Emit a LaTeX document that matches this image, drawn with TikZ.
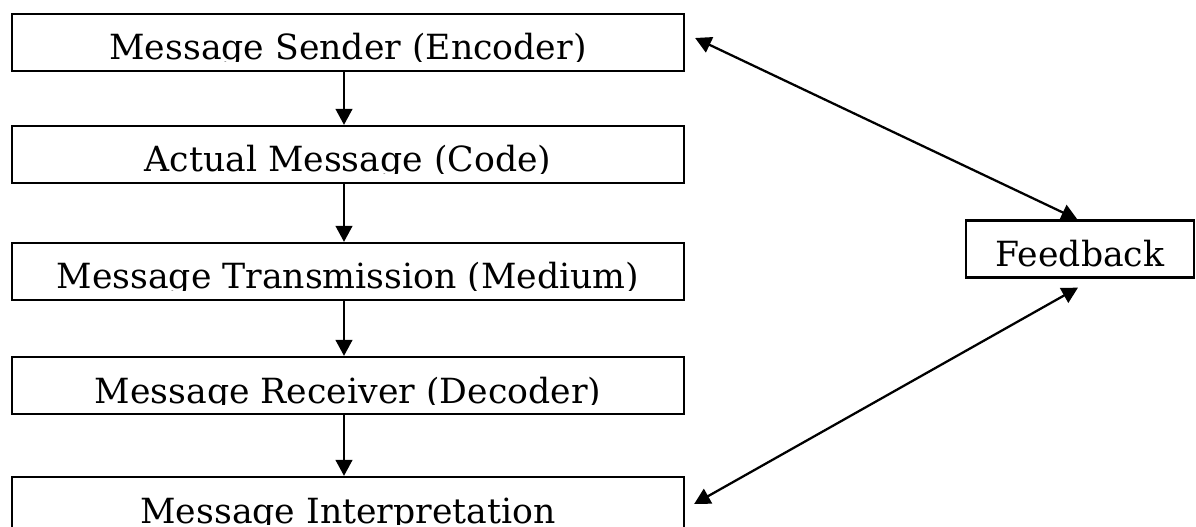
\documentclass[tikz,border=0pt]{standalone}
\usepackage{fontspec}
\setmainfont{DejaVu Serif}
\usetikzlibrary{arrows.meta}

\tikzset{
  lbl/.style={font=\fontsize{26}{30}\selectfont, inner sep=0pt, anchor=base},
  % framed box whose label is cut just under the baseline
  msgbox/.style={draw, line width=1.7pt, minimum width=504pt, minimum height=42.75pt,
    path picture={
      \clip (path picture bounding box.north west) rectangle ([yshift=7pt]path picture bounding box.south east);
      \node[lbl] at ([yshift=-34.5pt]path picture bounding box.north) {#1};
    }},
  arr/.style={line width=1.7pt, -{Triangle[length=12pt,width=12.5pt]}},
  twoway/.style={line width=1.7pt, {Triangle[length=12pt,width=12.5pt]}-{Triangle[length=12pt,width=12.5pt]}},
}

\begin{document}
\begin{tikzpicture}[x=0.75pt,y=-0.75pt]
  \useasboundingbox (0,0) rectangle (1196,527);

  \node[msgbox={Message Sender (Encoder)}] (send) at (348,42.5) {};
  \node[msgbox={Actual Message (Code)}] (code) at (348,154.5) {};
  \node[msgbox={Message Transmission (Medium)}] (medium) at (348,271.5) {};
  \node[msgbox={Message Receiver (Decoder)}] (decode) at (348,385.5) {};
  \node[msgbox={Message Interpretation}] (interp) at (348,505.5) {};
  \node[msgbox={Feedback}, minimum width=171pt] (fb) at (1080,249) {};

  \foreach \a/\b in {send/code,code/medium,medium/decode,decode/interp}
    \draw[arr] ([xshift=-3pt]\a.south) -- ([xshift=-3pt]\b.north);

  \draw[twoway] ([shift={(10,-4.5)}]send.east) -- ([xshift=-2pt]fb.north);
  \draw[twoway] ([shift={(9,-1.5)}]interp.east) -- ([shift={(-2,9)}]fb.south);
\end{tikzpicture}
\end{document}
